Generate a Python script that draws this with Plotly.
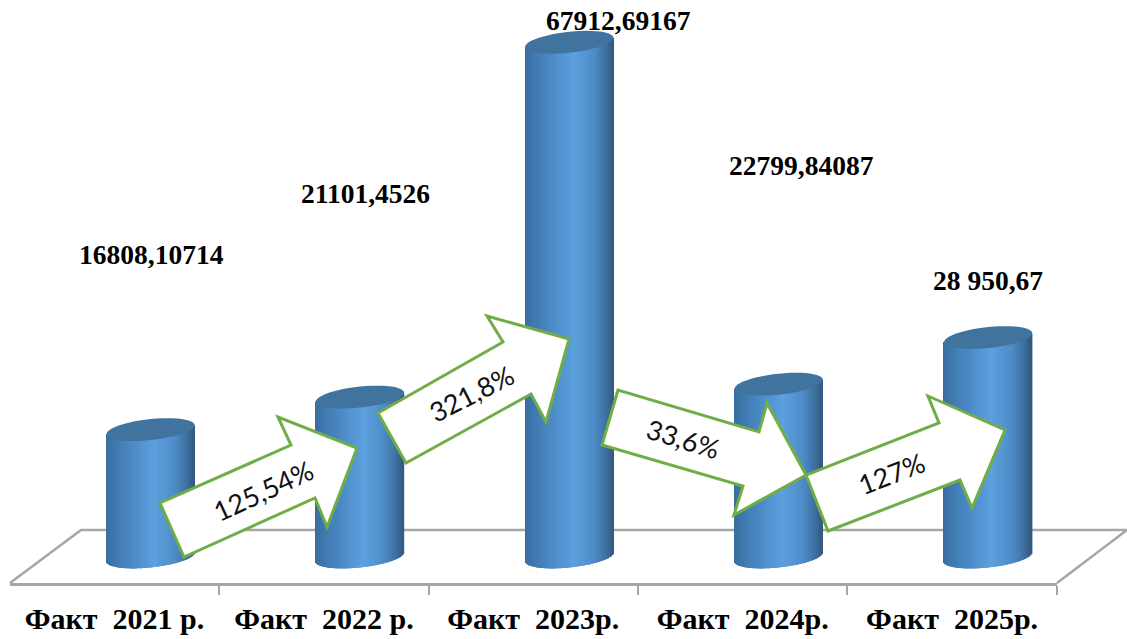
import math
import plotly.graph_objects as go

categories = ["Факт\u00a0\u00a02021 р.", "Факт\u00a0\u00a02022 р.", "Факт\u00a0\u00a02023р.", "Факт\u00a0\u00a02024р.", "Факт\u00a0\u00a02025р."]
values = [16808.10714, 21101.4526, 67912.69167, 22799.84087, 28950.67]
value_labels = ["16808,10714", "21101,4526", "67912,69167", "22799,84087", "28 950,67"]
growth_labels = ["125,54%", "321,8%", "33,6%", "127%"]

# ---- layout geometry (pixels of the 1127x639 page) ----
W, H = 1127, 639
AXIS_PX = 583
STEP = 209.4          # px per category
X0_PX = 150.5         # px of the first cylinder axis
DEPTH_SHIFT = 36      # cylinders stand behind the front edge of the floor
KY = 0.00758          # px per value unit
BASE_PX = 557         # px of value 0
HALF_W = 44
CAP_B = 10.5
CAP_SHEAR = 4.5
STRIP = 1

def xd(px):
    return (px - X0_PX) / STEP

def yd(dpx):
    return dpx / KY

def px_x(px):
    return px / W

def px_y(py):
    return (AXIS_PX - py) / AXIS_PX

stops = [(0.0, (58, 108, 158)), (0.08, (62, 118, 172)), (0.3, (75, 138, 198)),
         (0.55, (92, 160, 222)), (0.78, (78, 140, 200)), (0.92, (62, 112, 160)),
         (1.0, (50, 88, 126))]

def grad(t):
    for (t0, c0), (t1, c1) in zip(stops, stops[1:]):
        if t <= t1:
            f = (t - t0) / (t1 - t0)
            return "rgb(%d,%d,%d)" % tuple(round(a + (b - a) * f) for a, b in zip(c0, c1))
    return "rgb(50,88,126)"

# gradient strips: every cylinder body is a bundle of thin bars
bx, by, bbase, bw, bc = [], [], [], [], []
n = int(2 * HALF_W / STRIP)
for i, v in enumerate(values):
    for j in range(n):
        t = (j + 0.5) / n
        u = 2 * t - 1
        low = CAP_B * math.sqrt(max(0, 1 - u * u)) - CAP_SHEAR * u
        top = -CAP_SHEAR * u
        bx.append(i + xd(X0_PX + u * HALF_W))
        bbase.append(yd(-low))
        by.append(v + yd(-top) - yd(-low))
        bw.append((STRIP + 0.6) / STEP)
        bc.append(grad(t))

fig = go.Figure(go.Bar(x=bx, y=by, base=bbase, width=bw, marker=dict(color=bc, line_width=0),
                       showlegend=False, hoverinfo="skip"))

shapes = []
# floor (behind the bars)
shapes.append(dict(type="path", layer="below", xref="paper", yref="paper",
                   path="M %f,%f L %f,%f L %f,%f L %f,%f" % (
                       px_x(10), px_y(583), px_x(81), px_y(530),
                       px_x(1127), px_y(530), px_x(1057), px_y(583)),
                   line=dict(color="#a6a6a6", width=2.5)))

# cylinder caps, computed from the values
for i, v in enumerate(values):
    pts = []
    for k in range(48):
        a = 2 * math.pi * k / 48
        xx = i + xd(X0_PX + HALF_W * math.cos(a))
        yy = v + yd(CAP_SHEAR * math.cos(a) + CAP_B * math.sin(a))
        pts.append("%s %f,%f" % ("M" if k == 0 else "L", xx, yy))
    shapes.append(dict(type="path", xref="x", yref="y", path=" ".join(pts) + " Z",
                       fillcolor="#41739f", line=dict(width=0), layer="above"))

# growth arrows
arrows = [
    [(160, 503), (184, 557), (315, 498), (327, 527), (357, 448), (278, 417), (291, 445)],
    [(378, 413), (406, 463), (531, 394), (546, 422), (569, 339), (487, 316), (503, 342)],
    [(618, 390), (602, 445), (743, 486), (734, 515), (806, 475), (767, 403), (759, 432)],
    [(806, 475), (828, 531), (960, 480), (972, 508), (1005, 430), (928, 396), (939, 423)],
]
for a in arrows:
    p = " ".join(("M" if k == 0 else "L") + " %f,%f" % (px_x(x), px_y(y)) for k, (x, y) in enumerate(a)) + " Z"
    shapes.append(dict(type="path", xref="paper", yref="paper", path=p, fillcolor="white",
                       line=dict(color="#70ad47", width=3), layer="above"))

annotations = []
label_pos = [(151, 255), (365, 193), (618, 21), (801, 166), (988, 280)]
for t, (x, y) in zip(value_labels, label_pos):
    annotations.append(dict(text="<b>%s</b>" % t, xref="paper", yref="paper", x=px_x(x), y=px_y(y),
                            xanchor="center", yanchor="middle", showarrow=False,
                            font=dict(family="Liberation Serif", size=27.5, color="black")))
growth_pos = [(263, 490, -25), (471, 393, -27), (683, 438, 17), (891, 473, -21)]
for t, (x, y, ang) in zip(growth_labels, growth_pos):
    annotations.append(dict(text=t, xref="paper", yref="paper", x=px_x(x), y=px_y(y),
                            xanchor="center", yanchor="middle", showarrow=False, textangle=ang,
                            font=dict(family="Lato", size=27, color="#111111")))

label_x = [i - DEPTH_SHIFT / STEP for i in range(len(categories))]
tick_edges = [i - DEPTH_SHIFT / STEP - 0.5 for i in range(len(categories) + 1)]

fig.update_layout(
    width=W, height=H, autosize=False,
    margin=dict(l=0, r=0, t=0, b=H - AXIS_PX, pad=0),
    paper_bgcolor="white", plot_bgcolor="white",
    barmode="overlay", showlegend=False,
    shapes=shapes, annotations=annotations,
    xaxis=dict(domain=[10 / W, 1057 / W], range=[xd(10), xd(1057)],
               tickmode="array", tickvals=label_x, ticktext=categories,
               ticks="", showgrid=False, zeroline=False, showline=True,
               linecolor="#a6a6a6", linewidth=2.5, ticklabelstandoff=7,
               tickfont=dict(family="Liberation Serif", size=30, color="black", weight="bold"),
               minor=dict(tickmode="array", tickvals=tick_edges, ticks="outside", ticklen=9,
                          tickwidth=1.5, tickcolor="#a6a6a6", showgrid=False)),
    yaxis=dict(visible=False, range=[yd(BASE_PX - AXIS_PX), yd(BASE_PX)]),
)
fig.write_html("out.html", config=dict(displayModeBar=False),
               post_script="document.body.style.margin='0';document.documentElement.style.overflow='hidden';")
